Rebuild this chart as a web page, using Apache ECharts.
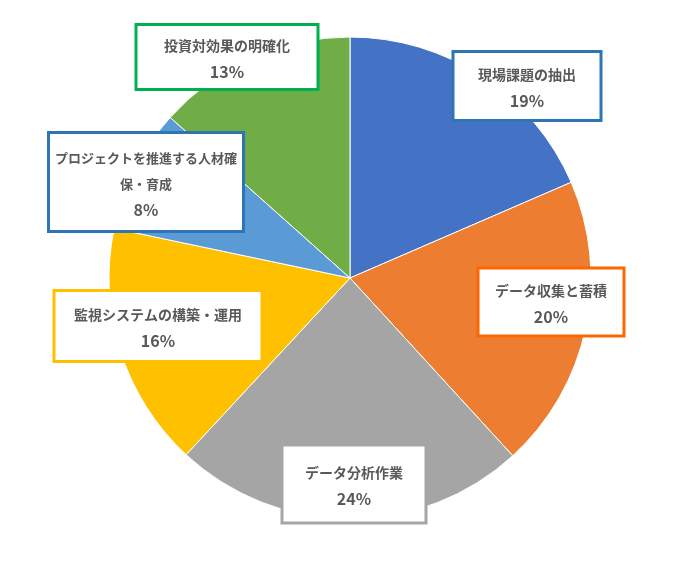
<!DOCTYPE html>
<html>
<head>
    <meta charset="utf-8">
    <title>ECharts</title>
    <script src="https://cdn.jsdelivr.net/npm/echarts@6/dist/echarts.min.js"></script>
    <style>
        html, body { margin: 0; padding: 0; background: #fff; }
    </style>
</head>
<body>
    <div id="main" style="width: 700px;height:568px;"></div>
<script>
// データ（表示は整数％に丸める）
var categories = ['現場課題の抽出', 'データ収集と蓄積', 'データ分析作業', '監視システムの構築・運用', 'プロジェクトを推進する人材確保・育成', '投資対効果の明確化'];
var values = [18.5, 19.7, 23.7, 16.4, 8.3, 13.4];

// 色
var sliceColors = ['#4472C4', '#ED7D31', '#A5A5A5', '#FFC000', '#5B9BD5', '#70AD47'];
var boxColors = ['#2E75B6', '#FF6600', '#A5A5A5', '#FFC000', '#2E75B6', '#00B050'];

// ラベル枠の中心と大きさ
var labelPos = [[527, 86], [551, 302], [354, 484], [158, 326], [146, 182], [227, 57]];
var labelBox = [[145, 66], [143, 65], [141, 75], [205, 68], [192, 96], [179, 62]];
var lineChars = [20, 20, 20, 20, 14, 20];
var nameSize = [14, 14, 14, 14, 13, 14];
var LINE_H = 26;

var FONT = '"Noto Sans CJK JP", sans-serif';

var myChart = echarts.init(document.getElementById('main'));

function splitName(name, n) {
    var out = [];
    for (var i = 0; i < name.length; i += n) out.push(name.slice(i, i + n));
    return out;
}

var pieData = categories.map(function (name, i) {
    var lines = splitName(name, lineChars[i]).length + 1;
    var padV = Math.max(0, (labelBox[i][1] - lines * LINE_H) / 2);
    return {
        name: name,
        value: values[i],
        itemStyle: { color: sliceColors[i] },
        label: {
            borderColor: boxColors[i],
            width: labelBox[i][0],
            padding: [padV + 2, 0, padV - 2, 0],
            rich: {
                n: {
                    fontFamily: FONT,
                    fontWeight: 'bold',
                    fontSize: nameSize[i],
                    lineHeight: LINE_H,
                    color: '#595959',
                    align: 'center'
                },
                p: {
                    fontFamily: FONT,
                    fontWeight: 'bold',
                    fontSize: 16,
                    lineHeight: LINE_H,
                    color: '#595959',
                    align: 'center'
                }
            }
        }
    };
});

myChart.setOption({
    animation: false,
    series: [
        {
            type: 'pie',
            center: [350, 278],
            radius: 241,
            startAngle: 90,
            clockwise: true,
            percentPrecision: 0,
            avoidLabelOverlap: false,
            itemStyle: {
                borderColor: '#fff',
                borderWidth: 1
            },
            label: {
                show: true,
                position: 'inside',
                formatter: function (p) {
                    var rows = splitName(p.name, lineChars[p.dataIndex]).map(function (s) {
                        return '{n|' + s + '}';
                    });
                    rows.push('{p|' + p.percent + '%}');
                    return rows.join('\n');
                },
                backgroundColor: '#fff',
                borderWidth: 3,
                align: 'center',
                verticalAlign: 'middle'
            },
            labelLine: { show: false },
            labelLayout: function (params) {
                var p = labelPos[params.dataIndex];
                return { x: p[0], y: p[1], align: 'center', verticalAlign: 'middle', moveOverlap: false };
            },
            data: pieData
        }
    ]
});
</script>
</body>
</html>
